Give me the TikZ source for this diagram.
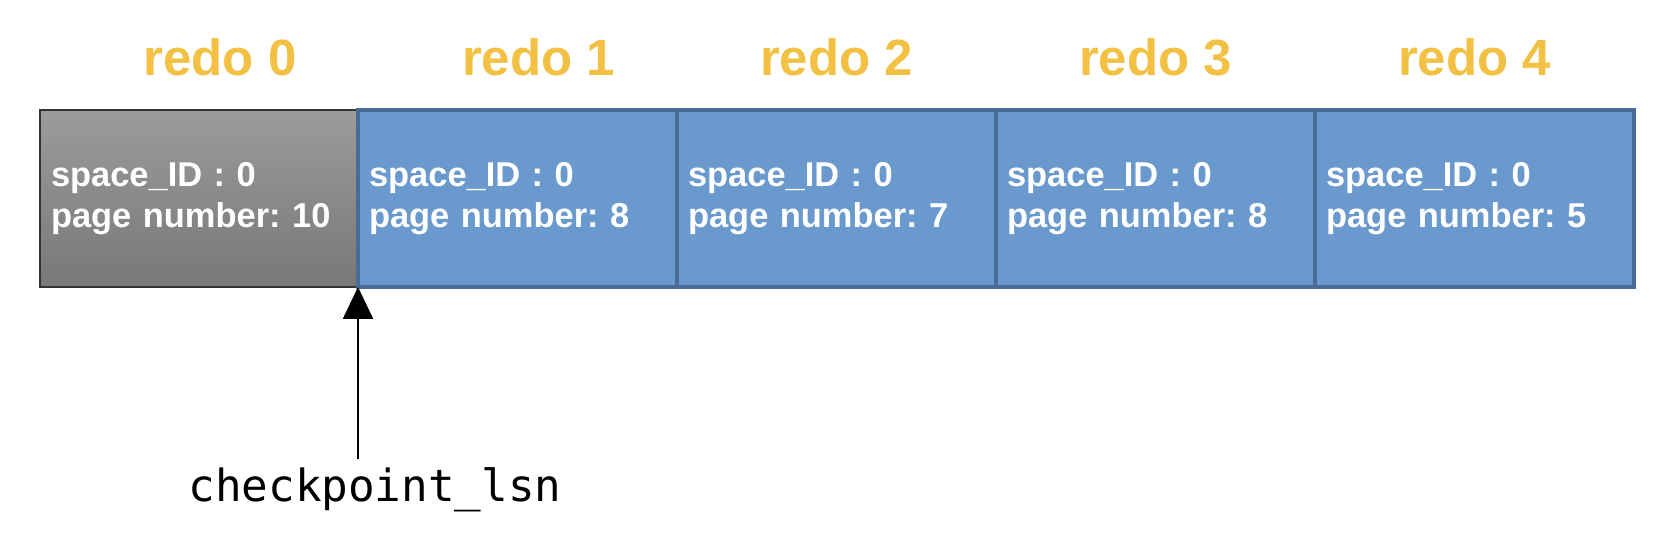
\documentclass[tikz,border=0pt]{standalone}
\usepackage{fontspec}
\setmainfont{Liberation Sans}
\setmonofont{DejaVu Sans Mono}
\usepackage{xcolor}
\usepackage{tikz}
\usetikzlibrary{arrows.meta, positioning}
\definecolor{redoyellow}{RGB}{242,192,66}
\definecolor{pageblue}{RGB}{106,153,205}
\definecolor{pageedge}{RGB}{72,108,150}
\tikzstyle{page} = [rectangle, minimum width=3.19cm, minimum height=1.77cm, text width=2.97cm, inner xsep=0.11cm, align=left, outer sep=0pt, draw=pageedge, line width=1.1pt, fill=pageblue, text=white, font=\frenchspacing\bfseries\fontsize{9.8}{11.8}\selectfont]
\tikzstyle{redo} = [inner sep=0pt, text=redoyellow, font=\bfseries\fontsize{14.5}{16}\selectfont]
\tikzstyle{arrow} = [line width=0.7pt, -{Triangle[length=0.32cm, width=0.3cm]}]

\begin{document}
\begin{tikzpicture}[node distance=0cm]
    \useasboundingbox (0,0) rectangle (16.78,-5.38);
    \node[page, anchor=north west, draw=black!80, line width=0.6pt, top color=black!39, bottom color=black!53, minimum width=3.18cm, text width=2.96cm] (r0) at (0.40,-1.10) {space\_ID : 0\\page number: 10};
    \node[page, right=of r0] (r1) {space\_ID : 0\\page number: 8};
    \node[page, right=of r1] (r2) {space\_ID : 0\\page number: 7};
    \node[page, right=of r2] (r3) {space\_ID : 0\\page number: 8};
    \node[page, right=of r3] (r4) {space\_ID : 0\\page number: 5};

    \node[redo, above=0.33cm of r0, xshift=0.21cm] (t0) {redo 0};
    \node[redo, above=0.33cm of r1, xshift=0.21cm] (t1) {redo 1};
    \node[redo, above=0.33cm of r2] (t2) {redo 2};
    \node[redo, above=0.33cm of r3] (t3) {redo 3};
    \node[redo, above=0.33cm of r4] (t4) {redo 4};

    \node[anchor=north, inner sep=0.08cm, font=\ttfamily\fontsize{12.6}{14}\selectfont] (lsn) at ([xshift=0.17cm, yshift=-1.72cm]r0.south east) {checkpoint\_lsn};

    \draw[arrow] (lsn.north -| r0.south east) -- (r0.south east);
\end{tikzpicture}
\end{document}
